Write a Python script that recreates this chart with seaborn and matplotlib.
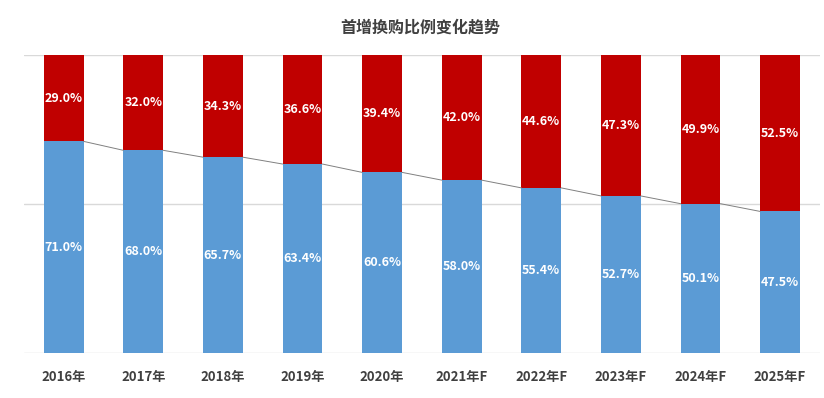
import numpy as np
import pandas as pd
import matplotlib
matplotlib.use("Agg")
import matplotlib.pyplot as plt
import seaborn as sns

# data
years = ["2016年", "2017年", "2018年", "2019年", "2020年",
         "2021年F", "2022年F", "2023年F", "2024年F", "2025年F"]
first_buy = [71.0, 68.0, 65.7, 63.4, 60.6, 58.0, 55.4, 52.7, 50.1, 47.5]
replace_buy = [29.0, 32.0, 34.3, 36.6, 39.4, 42.0, 44.6, 47.3, 49.9, 52.5]

BLUE = "#5B9BD5"
RED = "#C00000"

sns.set_theme(style="white")
plt.rcParams["font.family"] = ["Noto Sans CJK SC", "DejaVu Sans"]

df = pd.DataFrame({"year": years, "first": first_buy, "replace": replace_buy})
df["total"] = df["first"] + df["replace"]

fig = plt.figure(figsize=(8.24, 3.98), dpi=100)
ax = fig.add_axes([0.029, 0.113, 0.966, 0.749])

# stacked: full bar in red, blue drawn over the lower part
sns.barplot(data=df, x="year", y="total", color=RED, width=0.5, saturation=1,
            linewidth=0, ax=ax)
sns.barplot(data=df, x="year", y="first", color=BLUE, width=0.5, saturation=1,
            linewidth=0, ax=ax)

# series lines between blue bar tops
for i in range(len(years) - 1):
    ax.plot([i + 0.25, i + 0.75], [first_buy[i], first_buy[i + 1]],
            color="#808080", lw=0.7, zorder=1)

for i in range(len(years)):
    ax.text(i, first_buy[i] / 2, f"{first_buy[i]:.1f}%", ha="center", va="center",
            color="white", fontsize=9, fontweight="bold")
    ax.text(i, first_buy[i] + replace_buy[i] / 2, f"{replace_buy[i]:.1f}%",
            ha="center", va="center", color="white", fontsize=9, fontweight="bold")

ax.set_xlim(-0.5, len(years) - 0.5)
ax.set_ylim(0, 100)
ax.set_yticks([0, 50, 100])
ax.set_yticklabels([])
ax.yaxis.grid(True, color="#D9D9D9", lw=1)
ax.set_axisbelow(True)
for s in ax.spines.values():
    s.set_visible(False)
ax.tick_params(axis="both", length=0)
ax.tick_params(axis="x", pad=12)
ax.set_xlabel("")
ax.set_ylabel("")
for lab in ax.get_xticklabels():
    lab.set_fontsize(9.5)
    lab.set_fontweight("bold")
    lab.set_color("#404040")

fig.text(0.51, 0.93, "首增换购比例变化趋势", ha="center", va="center",
         fontsize=11.5, fontweight="bold", color="#404040")

fig.savefig("out.png", dpi=100)
